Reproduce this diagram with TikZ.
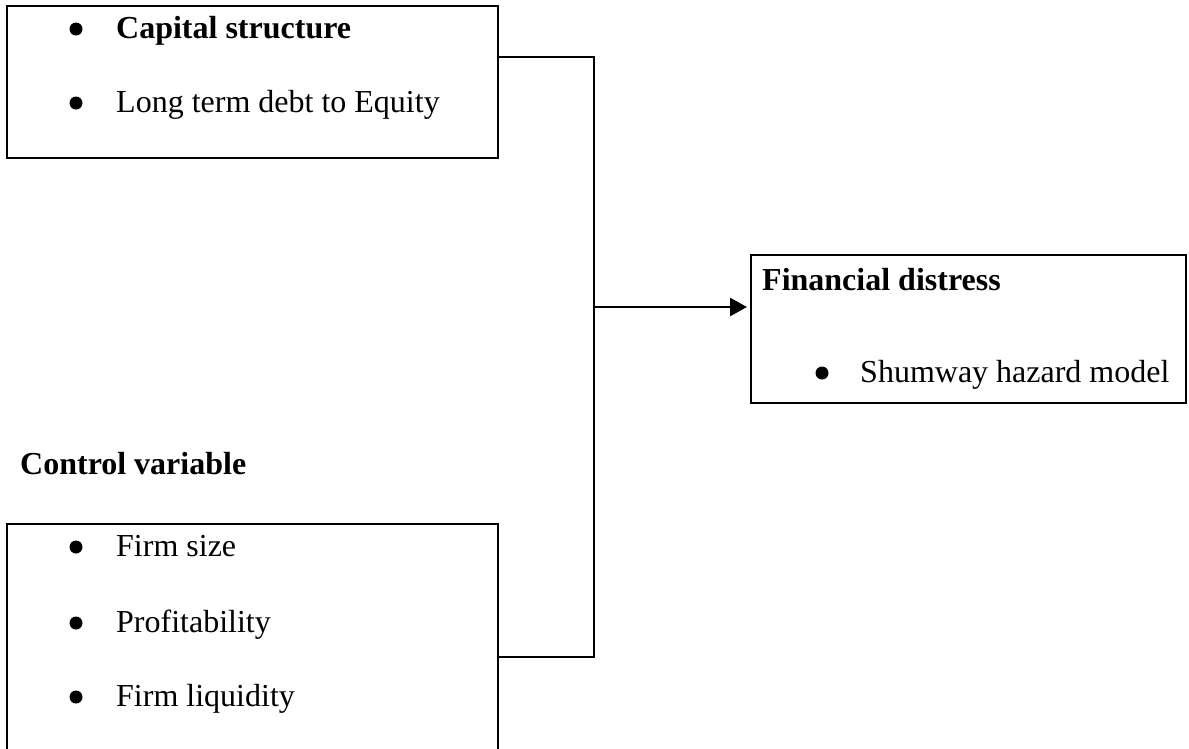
\documentclass[tikz,border=0pt]{standalone}
\usepackage{fontspec}
\setmainfont{Liberation Serif}
\usetikzlibrary{arrows.meta}
\begin{document}
\begin{tikzpicture}[x=1pt,y=-1pt,
  box/.style={draw=black,line width=2.4pt,inner sep=0pt,anchor=north west},
  txt/.style={anchor=base west,inner sep=0pt,font=\fontsize{32}{38}\selectfont},
  btxt/.style={txt,font=\fontsize{32}{38}\selectfont\bfseries},
  bul/.style={circle,fill=black,inner sep=0pt,minimum size=13pt},
  conn/.style={line width=2.1pt},
  arr/.style={line width=2.8pt,shorten >=3pt,-{Triangle[length=17pt,width=18pt]}}]
\useasboundingbox (0,0) rectangle (1189,748);
\begin{scope}
\clip (0,0) rectangle (1189,748);
% boxes
\node[box,minimum width=491pt,minimum height=152pt] (cap) at (6,5) {};
\node[box,minimum width=435pt,minimum height=148pt] (fd) at (750,254) {};
\node[box,minimum width=491pt,minimum height=240pt] (ctl) at (6,523) {};
\end{scope}
% texts
\node[bul] (b1) at (76,29) {};
\node[btxt] (t1) at (116,38) {Capital structure};
\node[bul] (b2) at (76,103) {};
\node[txt] (t2) at (116,112) {Long term debt to Equity};
\node[btxt] (t3) at (762,290) {Financial distress};
\node[bul] (b3) at (822,373) {};
\node[txt] (t4) at (860,382) {Shumway hazard model};
\node[btxt] (t5) at (20,474) {Control variable};
\node[bul] (b4) at (76,547) {};
\node[txt] (t6) at (116,556) {Firm size};
\node[bul] (b5) at (76,623) {};
\node[txt] (t7) at (116,632) {Profitability};
\node[bul] (b6) at (76,697) {};
\node[txt] (t8) at (116,706) {Firm liquidity};
% connectors
\coordinate (j1) at (594,57);
\coordinate (j2) at (594,657);
\coordinate (am) at (594,307);
\draw[conn] (cap.east |- j1) -- (j1) -- (j2) -- (ctl.east |- j2);
\draw[arr] (am) -- (fd.west |- am);
\end{tikzpicture}
\end{document}
